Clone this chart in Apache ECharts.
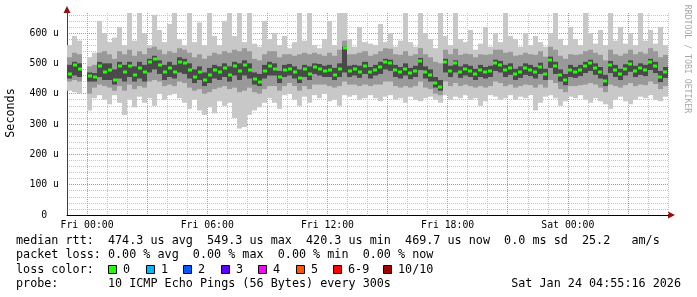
<!DOCTYPE html>
<html><head><meta charset="utf-8">
<script src="https://cdn.jsdelivr.net/npm/echarts@6/dist/echarts.min.js"></script>
<style>html,body{margin:0;padding:0;background:#fff}#c{width:697px;height:297px}</style>
</head><body><div id="c"></div><script>
// time base: hours relative to Fri 00:00, one column per 15 minutes
const START_HOUR = -1;
const STEP_HOURS = 0.25;
const DAY_NAMES = ['Fri', 'Sat'];

// round trip times in microseconds (per 15 minute column)
const pingMedian = [465,495,480,null,458,455,490,470,478,445,490,470,490,462,485,470,505,515,495,470,485,
  470,505,500,478,455,470,445,460,478,470,485,462,490,475,495,478,448,440,475,490,
  482,455,478,482,470,452,480,465,488,482,475,478,462,480,549,475,480,472,490,470,
  478,488,505,500,478,470,482,468,475,508,472,462,435,421,505,475,500,470,480,475,
  465,478,470,475,500,495,478,485,465,472,485,478,470,488,465,512,490,462,445,478,
  470,478,490,500,485,470,442,495,478,465,480,498,475,485,478,503,490,455,470];
const pingMax = [560,590,575,null,520,535,640,600,570,585,620,560,666,575,666,600,560,660,610,570,630,
  666,580,560,666,570,635,560,666,590,560,640,666,590,666,570,666,565,555,640,580,
  600,560,590,550,570,666,575,666,560,550,580,640,560,666,666,580,555,620,570,565,
  560,630,570,600,555,575,666,570,555,666,600,580,550,666,590,560,666,580,570,610,
  545,565,620,555,600,570,666,590,580,555,600,560,590,570,555,600,666,580,560,620,
  580,560,666,600,565,610,560,666,575,620,565,600,560,666,575,610,565,620,560];
const pingMin = [410,405,400,null,345,385,395,380,365,395,370,330,380,355,390,370,385,360,400,380,395,
  400,385,370,350,380,345,330,355,335,375,360,370,320,285,290,330,345,355,370,385,
  370,350,395,400,380,360,390,370,395,385,400,375,380,360,395,390,395,380,385,395,
  385,375,390,395,380,385,370,390,380,375,385,390,380,370,395,380,390,385,395,380,
  385,360,375,395,390,380,385,395,380,390,385,395,345,370,390,395,385,360,375,390,
  385,395,380,370,385,375,365,350,380,390,375,365,380,390,385,395,380,375,390];
const pingHigh = [520,535,530,null,490,495,535,540,530,515,540,530,545,525,540,530,550,555,545,530,540,
  535,550,545,535,520,530,515,525,535,530,540,535,545,540,550,540,515,510,530,540,
  540,520,530,530,525,530,535,530,535,530,525,535,525,545,575,530,530,535,540,525,
  530,540,550,548,530,528,540,525,530,550,530,520,505,500,545,530,548,528,532,530,
  520,530,528,530,545,545,535,538,525,528,535,530,528,540,522,555,545,525,515,530,
  528,530,540,545,535,528,510,545,530,525,532,545,530,538,532,550,540,520,528];
const pingLow = [440,445,440,null,400,420,430,425,420,410,425,410,430,415,425,420,440,445,440,425,430,
  425,440,435,420,410,415,400,405,415,420,425,415,420,405,410,420,405,400,415,425,
  425,410,425,435,425,410,425,415,430,430,430,425,420,425,440,430,430,425,430,425,
  430,430,440,440,425,420,425,420,425,440,420,415,400,395,440,425,435,425,430,425,
  420,425,420,425,440,435,425,430,420,425,430,428,420,430,420,445,435,415,405,425,
  425,428,430,435,430,420,405,430,425,420,428,435,425,430,428,440,432,415,425];
const pingInnerHigh = [495,505,500,null,470,468,505,500,500,480,505,495,505,490,505,495,515,525,510,495,505,
  495,520,515,500,480,490,470,485,495,490,500,490,505,500,510,500,470,465,495,505,
  500,475,495,498,490,480,495,490,500,498,492,495,485,500,555,492,495,492,505,488,
  495,505,515,512,495,488,500,485,492,518,490,480,455,445,515,492,510,490,497,492,
  482,495,488,492,512,508,495,500,482,490,500,495,488,502,482,522,505,480,465,495,
  488,495,505,512,500,488,462,508,495,482,497,510,492,500,495,515,505,475,488];
const pingInnerLow = [450,460,455,null,440,440,455,445,445,430,450,440,455,440,450,440,470,480,465,445,455,
  450,470,465,450,435,445,425,435,450,445,455,440,460,445,460,450,430,425,450,460,
  460,435,455,460,450,435,455,445,465,460,455,455,445,455,470,455,460,452,465,450,
  460,465,480,475,455,450,460,448,455,478,450,440,420,410,470,455,470,452,460,455,
  445,455,450,455,475,470,455,462,445,452,462,458,450,465,445,485,465,440,428,455,
  452,458,468,475,462,450,425,468,455,445,460,472,455,462,458,478,468,438,452];

const lossLabels = ['0','1','2','3','4','5','6-9','10/10'];
const lossColors = ['#20ff00','#00b8ff','#0059ff','#5e00ff','#ff00ff','#ff5500','#ff0000','#a00000'];
const statLines = [
  'median rtt:  474.3 us avg  549.3 us max  420.3 us min  469.7 us now  0.0 ms sd  25.2   am/s',
  'packet loss: 0.00 % avg  0.00 % max  0.00 % min  0.00 % now'
];
const probeText = 'probe:       10 ICMP Echo Pings (56 Bytes) every 300s';
const stampText = 'Sat Jan 24 04:55:16 2026';
const watermark = 'RRDTOOL / TOBI OETIKER';

const MONO = '"DejaVu Sans Mono", monospace';
const GRID = '#c4c4c4';
const MGRID = '#e88080';

const hours = pingMedian.map((_, i) => START_HOUR + i * STEP_HOURS);
function band(lo, hi) {
  const out = [];
  hours.forEach((h, i) => { if (lo[i] != null && hi[i] != null) out.push([h, lo[i], hi[i]]); });
  return out;
}
function bandSeries(lo, hi, color) {
  return {
    type: 'custom', silent: true, clip: true,
    encode: { x: 0, y: [1, 2] },
    data: band(lo, hi),
    renderItem: function (params, api) {
      const h = api.value(0);
      const a = api.coord([h, api.value(2)]);
      const b = api.coord([h + STEP_HOURS, api.value(1)]);
      const x0 = Math.round(a[0]), x1 = Math.round(b[0]);
      return { type: 'rect', shape: { x: x0, y: a[1], width: x1 - x0, height: b[1] - a[1] }, style: { fill: color } };
    }
  };
}
const medData = [];
hours.forEach((h, i) => { if (pingMedian[i] != null) medData.push([h, pingMedian[i]]); });

function fmtX(v) {
  if (v < 0 || v % 6 !== 0) return '';
  const d = Math.floor(v / 24);
  const hh = v - d * 24;
  return DAY_NAMES[d] + ' ' + String(hh).padStart(2, '0') + ':00';
}

const graphics = [];
const rowY = [241.3, 255.4, 269.5, 283.7];
statLines.forEach((t, i) => graphics.push({ type: 'text', x: 16, y: rowY[i],
  style: { text: t, fontFamily: MONO, fontSize: 11.75, fill: '#000', verticalAlign: 'middle' } }));
graphics.push({ type: 'text', x: 16, y: rowY[2], style: { text: 'loss color:', fontFamily: MONO, fontSize: 11.75, fill: '#000', verticalAlign: 'middle' } });
const boxX = [108, 146, 183, 221, 258, 296, 333, 383];
lossLabels.forEach((lab, i) => {
  graphics.push({ type: 'rect', shape: { x: boxX[i] + 0.5, y: rowY[2] - 4, width: 8, height: 8 },
    style: { fill: lossColors[i], stroke: '#000', lineWidth: 1 } });
  graphics.push({ type: 'text', x: boxX[i] + 15, y: rowY[2],
    style: { text: lab, fontFamily: MONO, fontSize: 11.75, fill: '#000', verticalAlign: 'middle' } });
});
graphics.push({ type: 'text', x: 16, y: rowY[3], style: { text: probeText, fontFamily: MONO, fontSize: 11.75, fill: '#000', verticalAlign: 'middle' } });
graphics.push({ type: 'text', x: 681, y: rowY[3], style: { text: stampText, fontFamily: MONO, fontSize: 11.75, fill: '#000', verticalAlign: 'middle', align: 'right' } });
graphics.push({ type: 'text', x: 11, y: 113, rotation: Math.PI / 2,
  style: { text: 'Seconds', fontFamily: MONO, fontSize: 11.75, fill: '#000', verticalAlign: 'middle', align: 'center' } });
graphics.push({ type: 'text', x: 687, y: 59, rotation: -Math.PI / 2,
  style: { text: watermark, fontFamily: MONO, fontSize: 8.2, fill: '#a8a8a8', verticalAlign: 'middle', align: 'center' } });
graphics.push({ type: 'polygon', shape: { points: [[63.5, 13], [70.5, 13], [67, 6]] }, style: { fill: '#901010' } });
graphics.push({ type: 'polygon', shape: { points: [[668, 211.5], [668, 218.5], [675, 215]] }, style: { fill: '#901010' } });

const chart = echarts.init(document.getElementById('c'), null, { renderer: 'canvas' });
chart.setOption({
  animation: false,
  backgroundColor: '#fff',
  grid: { left: 67, right: 29, top: 13, bottom: 82, containLabel: false },
  xAxis: {
    type: 'value', min: -1, max: 29, interval: 1,
    axisLine: { show: true, onZero: false, lineStyle: { color: '#000', width: 1 } },
    axisTick: { show: false },
    axisLabel: { formatter: fmtX, fontFamily: MONO, fontSize: 9.8, color: '#000', margin: 5 },
    splitLine: { show: true, lineStyle: { type: 'dotted', color: [GRID, MGRID, GRID], width: 1 } }
  },
  yAxis: {
    type: 'value', min: 0, max: 666, interval: 20,
    axisLine: { show: true, onZero: false, lineStyle: { color: '#404040', width: 1 } },
    axisTick: { show: false },
    axisLabel: { formatter: v => (v % 100 !== 0 ? '' : (v === 0 ? '0  ' : v / 1 + ' u')),
      fontFamily: MONO, fontSize: 9.8, color: '#000', margin: 8, showMaxLabel: false },
    splitLine: { show: true, showMaxLine: false, lineStyle: { type: 'dotted', color: [MGRID, GRID, GRID, GRID, GRID], width: 1 } }
  },
  series: [
    bandSeries(pingMin, pingMax, '#c8c8c8'),
    bandSeries(pingLow, pingHigh, '#999999'),
    bandSeries(pingInnerLow, pingInnerHigh, '#4a4a4a'),
    {
      type: 'custom', silent: true, clip: true, encode: { x: 0, y: 1 }, data: medData,
      renderItem: function (params, api) {
        const h = api.value(0);
        const a = api.coord([h, api.value(1)]);
        const b = api.coord([h + STEP_HOURS, api.value(1)]);
        const cx = Math.round((a[0] + b[0]) / 2);
        return { type: 'rect', shape: { x: cx - 2, y: Math.round(a[1]) - 1.5, width: 4, height: 3 }, style: { fill: '#20ff00' } };
      }
    }
  ],
  graphic: graphics
});
</script></body></html>
